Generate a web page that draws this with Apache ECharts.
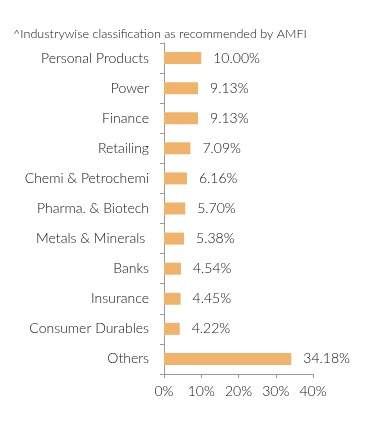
<!DOCTYPE html>
<html>
<head>
<meta charset="utf-8">
<script src="https://cdn.jsdelivr.net/npm/echarts@6/dist/echarts.min.js"></script>
<style>
html,body{margin:0;padding:0;background:#fff;}
#chart{width:391px;height:427px;}
</style>
</head>
<body>
<div id="chart"></div>
<script>
const categories = ["Personal Products", "Power", "Finance", "Retailing", "Chemi & Petrochemi", "Pharma. & Biotech", "Metals & Minerals ", "Banks", "Insurance", "Consumer Durables", "Others"];
const values = [10.00, 9.13, 9.13, 7.09, 6.16, 5.70, 5.38, 4.54, 4.45, 4.22, 34.18];
const titleText = "^Industrywise classification as recommended by AMFI";

const chart = echarts.init(document.getElementById('chart'), null, {renderer: 'canvas'});
const font = 'Lato, "Open Sans", sans-serif';
const txt = '#111';
chart.setOption({
  animation: false,
  title: {
    text: titleText,
    left: 8,
    top: 22,
    textStyle: {fontFamily: font, fontSize: 12.6, fontWeight: 300, color: txt}
  },
  grid: {left: 164, right: 78, top: 43, bottom: 53, containLabel: false},
  xAxis: {
    type: 'value',
    min: 0, max: 40, interval: 10,
    axisLine: {show: true, lineStyle: {color: '#999'}},
    axisTick: {show: true, length: 4, lineStyle: {color: '#999'}},
    splitLine: {show: false},
    axisLabel: {fontFamily: font, fontSize: 14, fontWeight: 300, color: txt, margin: 10, formatter: v => v + '%'}
  },
  yAxis: {
    type: 'category',
    data: categories,
    inverse: true,
    axisLine: {show: true, lineStyle: {color: '#999'}},
    axisTick: {show: true, length: 4, lineStyle: {color: '#999'}},
    axisLabel: {fontFamily: font, fontSize: 14, fontWeight: 300, color: txt, margin: 15}
  },
  series: [{
    type: 'bar',
    data: values,
    barWidth: 12,
    itemStyle: {color: '#F0B36B'},
    label: {
      show: true, position: 'right', distance: 12,
      fontFamily: font, fontSize: 14, fontWeight: 300, color: txt,
      formatter: p => p.value.toFixed(2) + '%'
    }
  }]
});
</script>
</body>
</html>
